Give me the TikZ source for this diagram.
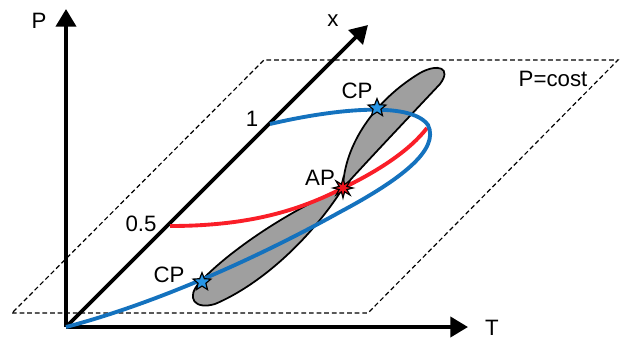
\documentclass[tikz,border=0pt]{standalone}
\usepackage{fontspec}
\setmainfont{Liberation Sans}
\usetikzlibrary{arrows.meta,shapes.geometric}
\tikzset{
  axis/.style={line width=3.3pt,-{Triangle[length=15pt,width=17pt]}},
  plane/.style={line width=1pt,dash pattern=on 4pt off 2.5pt},
  lobe/.style={draw=black,fill=gray!75,line width=1.5pt},
  bluecurve/.style={draw={rgb,255:red,20;green,114;blue,190},line width=3.3pt},
  redcurve/.style={draw={rgb,255:red,250;green,30;blue,40},line width=3.3pt},
  lbl/.style={font=\fontsize{19}{22}\selectfont,inner sep=0pt},
  bluestar/.style={star,star points=5,star point ratio=2.3,minimum size=16pt,inner sep=0pt,draw=black,line width=1pt,fill={rgb,255:red,40;green,150;blue,230}},
  redstar/.style={star,star points=8,star point ratio=2.4,minimum size=17pt,inner sep=0pt,draw=black,line width=1pt,fill={rgb,255:red,240;green,20;blue,30}}
}
\begin{document}
\begin{tikzpicture}[x=0.03cm,y=-0.03cm]
\useasboundingbox (0,0) rectangle (623,339);
% plane
\coordinate (bl) at (12,313);
\coordinate (br) at (368,313);
\coordinate (tr) at (618,60);
\coordinate (tl) at (264,60);
\draw[plane] (bl) -- (br) -- (tr) -- (tl) -- cycle;
% axes
\coordinate (O) at (66,327);
\coordinate (Ptip) at (66,9);
\coordinate (Ttip) at (468,327);
\coordinate (Xtip) at (368,25);
\draw[axis] (O) -- (Ptip);
\draw[axis] (O) -- (Ttip);
\draw[axis] (O) -- (Xtip);
% lobes
\coordinate (AP) at (343,188);
\draw[lobe] (AP) .. controls (344,145) and (375,100) .. (420,73)
  .. controls (438,63) and (452,68) .. (440,84)
  .. controls (410,116) and (370,158) .. (AP) -- cycle;
\draw[lobe] (AP) .. controls (290,210) and (230,250) .. (200,282)
  .. controls (185,298) and (195,310) .. (215,304)
  .. controls (260,285) and (310,240) .. (AP) -- cycle;
% curves
\coordinate (x1) at (270,124);
\coordinate (x05) at (170,226);
\coordinate (redend) at (427,128);
\draw[redcurve] (x05) .. controls (250,226) and (300,210) .. (AP)
  .. controls (380,170) and (410,150) .. (redend);
\draw[bluecurve] (x1) .. controls (330,110) and (410,100) .. (428,125)
  .. controls (440,150) and (400,180) .. (340,212)
  .. controls (250,262) and (150,305) .. (O);
% stars
\node[bluestar] (cp1) at (377,108) {};
\node[bluestar] (cp2) at (202,282) {};
\node[redstar] (ap) at (AP) {};
% labels
\node[lbl] (Plbl) at (39,21) {P};
\node[lbl] (xlbl) at (333,21) {x};
\node[lbl] (Tlbl) at (492,328) {T};
\node[lbl] (cost) at (553,79) {P=cost};
\node[lbl] (cpl1) at (357,91) {CP};
\node[lbl] (cpl2) at (169,275) {CP};
\node[lbl] (apl) at (320,178) {AP};
\node[lbl] (one) at (252,119) {1};
\node[lbl] (half) at (141,224) {0.5};
\end{tikzpicture}
\end{document}
